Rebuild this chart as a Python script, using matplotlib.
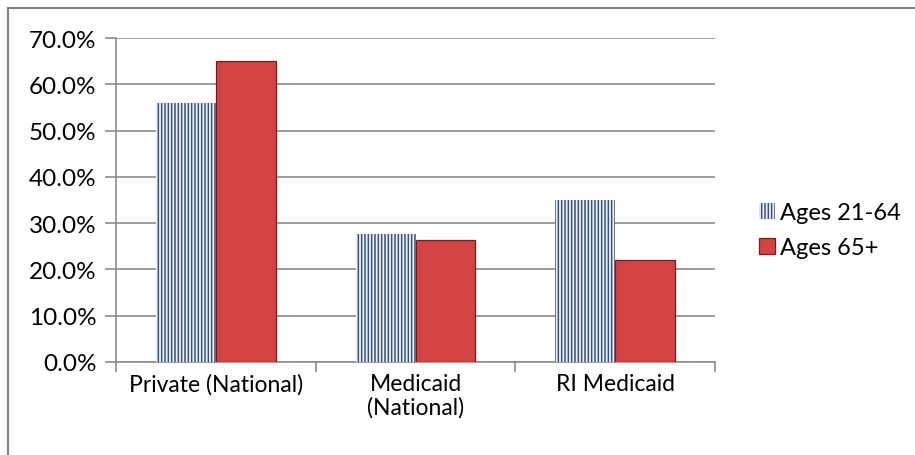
import numpy as np
import matplotlib
matplotlib.use('Agg')
import matplotlib.pyplot as plt
from matplotlib.patches import Patch
from matplotlib.ticker import FuncFormatter

categories = ['Private (National)', 'Medicaid\n(National)', 'RI Medicaid']
ages_21_64 = [55.9, 27.7, 35.0]
ages_65 = [65.0, 26.3, 22.0]
series_names = ['Ages 21-64', 'Ages 65+']
yticks = [0, 10, 20, 30, 40, 50, 60, 70]

plt.rcParams['font.family'] = ['Lato', 'DejaVu Sans']
plt.rcParams['hatch.linewidth'] = 1.1

W, H = 915, 456
fig = plt.figure(figsize=(W / 100, H / 100), dpi=100)
ax = fig.add_axes([116 / W, (H - 363) / H, (715 - 116) / W, (363 - 39) / H])

x = np.arange(len(categories))
bw = 0.3
ax.bar(x - bw / 2, ages_21_64, bw, facecolor='#eef2f7', edgecolor='#3a5274',
       hatch='|||||', linewidth=0, zorder=3)
ax.bar(x + bw / 2, ages_65, bw, facecolor='#d34343', edgecolor='#7a1c1c',
       linewidth=0.9, zorder=3)

ax.set_xlim(-0.5, 2.5)
ax.set_ylim(0, 70)
ax.set_yticks(yticks)
ax.yaxis.set_major_formatter(FuncFormatter(lambda v, p: f'{v:.1f}%'))
ax.yaxis.grid(True, color='#8c8c8c', linewidth=1.2, zorder=0)
ax.set_axisbelow(True)

ax.set_xticks(x)
ax.set_xticklabels(categories, linespacing=1.1)
ax.set_xticks([-0.5, 0.5, 1.5, 2.5], minor=True)
ax.tick_params(axis='x', which='major', length=0, pad=8, labelsize=16.5)
ax.tick_params(axis='x', which='minor', length=7, color='#8c8c8c', width=1.2)
ax.tick_params(axis='y', length=8, color='#8c8c8c', width=1.2, labelsize=17.5, pad=6)

for s in ['top', 'right']:
    ax.spines[s].set_visible(False)
for s in ['left', 'bottom']:
    ax.spines[s].set_color('#8c8c8c')
    ax.spines[s].set_linewidth(1.2)

handles = [Patch(facecolor='#eef2f7', edgecolor='#3a5274', hatch='|||||', linewidth=0),
           Patch(facecolor='#d34343', edgecolor='#7a1c1c', linewidth=0.9)]
fig.legend(handles, series_names, loc='upper left', bbox_to_anchor=(738 / W, 1 - 182 / H),
           frameon=False, fontsize=17, handlelength=0.65, handleheight=0.65,
           handletextpad=0.25, labelspacing=0.6)

# outer chart frame (left and top edges visible)
fig.add_artist(plt.Line2D([8 / W, 8 / W], [0, 1 - 9 / H], color='#808080', lw=1.5))
fig.add_artist(plt.Line2D([8 / W, 1], [1 - 9 / H, 1 - 9 / H], color='#808080', lw=1.5))

fig.savefig('out.png', dpi=100)
